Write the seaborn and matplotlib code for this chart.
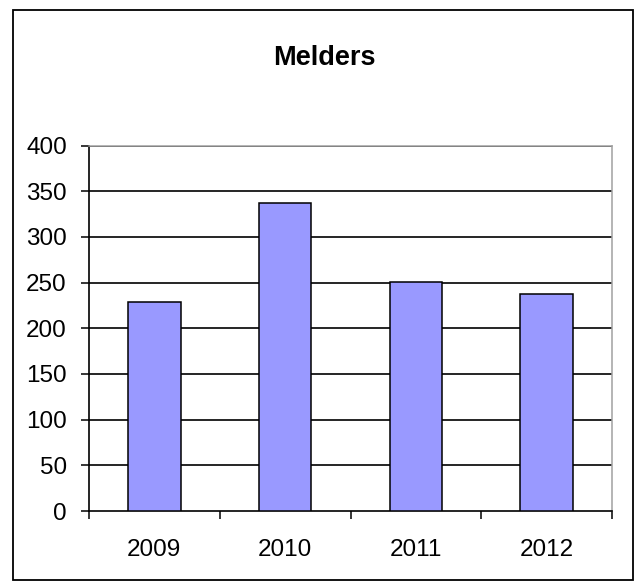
import matplotlib
matplotlib.use("Agg")
import matplotlib.pyplot as plt
import seaborn as sns
import pandas as pd
from matplotlib.patches import Rectangle
from matplotlib.ticker import FixedLocator, NullFormatter

years = ["2009", "2010", "2011", "2012"]
melders = [229, 337, 251, 238]
y_ticks = [0, 50, 100, 150, 200, 250, 300, 350, 400]
title = "Melders"

sns.set_style("white")
plt.rcParams["font.family"] = ["Liberation Sans", "DejaVu Sans"]

df = pd.DataFrame({"year": years, "value": melders})

fig = plt.figure(figsize=(6.4, 5.83), dpi=100)
ax = fig.add_axes([89 / 640, 1 - 511 / 583, (612 - 89) / 640, (511 - 145.5) / 583])

sns.barplot(data=df, x="year", y="value", color="#9999FF", saturation=1,
            width=0.4, edgecolor="black", linewidth=1.1, ax=ax, zorder=3)

ax.set_ylim(0, 400)
ax.set_xlim(-0.5, 3.5)
ax.set_yticks(y_ticks)
ax.set_yticklabels([str(t) for t in y_ticks])
for t in y_ticks[1:]:
    ax.axhline(t, color="black", lw=1.2, zorder=1)

# Excel-style category ticks at boundaries, labels at centres
ax.xaxis.set_major_locator(FixedLocator([-0.5, 0.5, 1.5, 2.5, 3.5]))
ax.xaxis.set_major_formatter(NullFormatter())
ax.xaxis.set_minor_locator(FixedLocator(range(len(years))))
ax.set_xticklabels(years, minor=True)
ax.tick_params(axis="x", which="major", direction="out", length=6, width=1.1, color="black", bottom=True)
ax.tick_params(axis="x", which="minor", length=0, pad=20, labelsize=17.5, labelcolor="black", bottom=True)
ax.tick_params(axis="y", direction="out", length=6, width=1.1, color="black", pad=10,
               labelsize=17.5, labelcolor="black", left=True)

ax.set_xlabel("")
ax.set_ylabel("")

for s in ["left", "bottom"]:
    ax.spines[s].set_color("black")
    ax.spines[s].set_linewidth(1.2)
    ax.spines[s].set_visible(True)
for s in ["top", "right"]:
    ax.spines[s].set_color("#A0A0A0")
    ax.spines[s].set_linewidth(1.1)
    ax.spines[s].set_visible(True)

fig.text(324.5 / 640, 1 - 58 / 583, title, ha="center", va="center",
         fontsize=19.5, fontweight="bold", color="black")

fig.patches.append(Rectangle((12.5 / 640, 1 - 579.5 / 583), (633 - 12.5) / 640, (579.5 - 9.5) / 583,
                             transform=fig.transFigure, fill=False, edgecolor="black", lw=1.3))

fig.savefig("out.png", dpi=100)
